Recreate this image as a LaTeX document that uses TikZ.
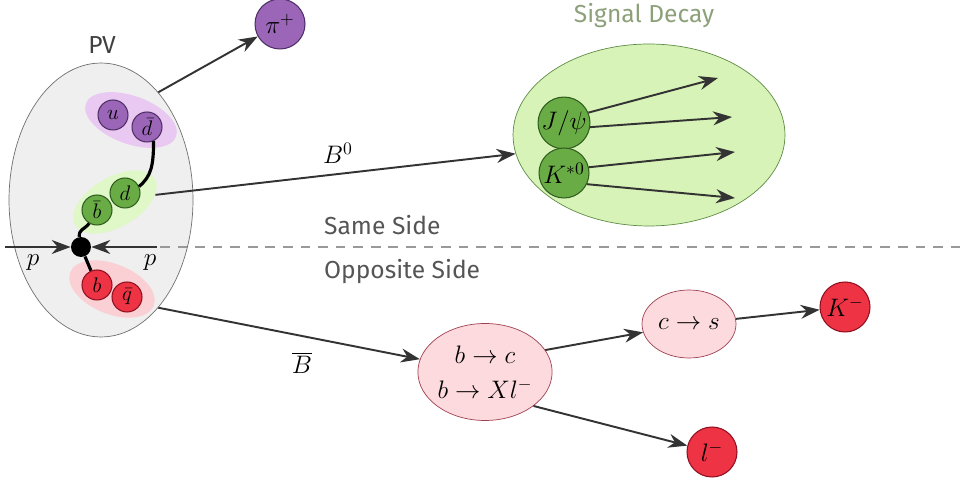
\documentclass[tikz,border=0pt]{standalone}
\usepackage{fontspec}
\newfontfamily\labelfont{Fira Sans}
\usetikzlibrary{arrows.meta,shapes.geometric}

% colours
\definecolor{arrowgray}{HTML}{333333}
\definecolor{textgray}{HTML}{555555}
\definecolor{pvfill}{HTML}{EFEFEF}
\definecolor{pvline}{HTML}{707070}
\definecolor{purpblob}{HTML}{E9C8F2}
\definecolor{purpq}{HTML}{9B66B8}
\definecolor{purpline}{HTML}{4F2F66}
\definecolor{greenblob}{HTML}{E0F7C8}
\definecolor{greenq}{HTML}{69AC45}
\definecolor{greenline}{HTML}{2F5E1E}
\definecolor{redblob}{HTML}{FAD0D4}
\definecolor{redq}{HTML}{EE3344}
\definecolor{redline}{HTML}{8E1020}
\definecolor{sigfill}{HTML}{D8F3B8}
\definecolor{sigline}{HTML}{5E8C44}
\definecolor{sigtext}{HTML}{8CA07A}
\definecolor{pinkfill}{HTML}{FCDADE}
\definecolor{pinkline}{HTML}{A04050}
\definecolor{dashgray}{HTML}{999999}

\begin{document}
\begin{tikzpicture}[x=0.02cm, y=-0.02cm,
    arr/.style={draw=arrowgray, line width=1.1pt, -{Stealth[length=0.38cm, width=0.28cm]}},
    string/.style={draw=black, line width=1.8pt},
    blob/.style={ellipse, inner sep=0pt},
    quark/.style={circle, minimum size=0.6cm, inner sep=0pt, line width=0.6pt, font=\large},
    particle/.style={circle, minimum size=1cm, inner sep=0pt, line width=0.6pt, font=\Large},
    txt/.style={font=\labelfont\fontsize{14}{16}\selectfont, text=textgray}]

    \useasboundingbox (0,0) rectangle (966,482);

    % Primary vertex
    \node[txt, text=black!75] (pvlabel) at (102,45) {PV};
    \node[blob, draw=pvline, fill=pvfill, minimum width=3.68cm, minimum height=5.48cm] (pv) at (101,200) {};

    % quark pairs
    \node[blob, fill=purpblob, minimum width=1.92cm, minimum height=0.96cm, rotate=-20] (purpleblob) at (131,120) {};
    \node[blob, fill=greenblob, minimum width=1.84cm, minimum height=1cm, rotate=30] (greenblob) at (115,202) {};
    \node[blob, fill=redblob, minimum width=1.8cm, minimum height=1cm, rotate=-22] (redblob) at (112,289) {};

    % beams and side split
    \coordinate (dashstart) at (160,247);
    \coordinate (dashend) at (966,247);
    \coordinate (beamL) at (5,247);
    \coordinate (beamR) at (157,247);
    \draw[dashgray, line width=1.3pt, dash pattern=on 5.5pt off 4.5pt] (dashstart) -- (dashend);

    \node[circle, fill=black, minimum size=0.4cm, inner sep=0pt] (vtx) at (81,247) {};
    \draw[arr] (beamL) -- (vtx);
    \draw[arr] (beamR) -- (vtx);
    \node[font=\Large] (pL) at (33,263) {$p$};
    \node[font=\Large] (pR) at (150,263) {$p$};

    \node[quark, fill=purpq, draw=purpline] (u) at (113,115) {$u$};
    \node[quark, fill=purpq, draw=purpline] (dbar) at (147,127) {$\bar d$};
    \node[quark, fill=greenq, draw=greenline] (d) at (125,193) {$d$};
    \node[quark, fill=greenq, draw=greenline] (bbar) at (97,210) {$\bar b$};
    \node[quark, fill=redq, draw=redline] (b) at (97,285) {$b$};
    \node[quark, fill=redq, draw=redline] (qbar) at (127,297) {$\bar q$};

    % strings
    \draw[string] (dbar.-65) .. controls +(0,25) and +(12,-10) .. (d.25);
    \draw[string] (bbar.-120) .. controls +(-6,7) and +(0,-8) .. (vtx.100);
    \draw[string] (vtx) -- (b);

    % same side
    \node[particle, fill=purpq, draw=purpline] (pip) at (280,24) {$\pi^+$};
    \draw[arr] (pv.62) -- (pip);

    \node[txt, text=sigtext] (siglabel) at (644,16) {Signal Decay};
    \node[blob, draw=sigline, fill=sigfill, minimum width=5.44cm, minimum height=3.64cm] (sig) at (649,135) {};
    \node[particle, fill=greenq, draw=greenline] (jpsi) at (564,123) {$J/\psi$};
    \node[particle, fill=greenq, draw=greenline] (kstar) at (564,173) {$K^{*0}$};

    \draw[arr] (greenblob.-20) -- (sig.188);
    \node[font=\Large] (bzero) at (338,153) {$B^0$};

    \coordinate (outA) at (718,78);
    \coordinate (outB) at (732,117);
    \coordinate (outC) at (735,152);
    \coordinate (outD) at (735,198);
    \draw[arr] (jpsi.23) -- (outA);
    \draw[arr] (jpsi.-9) -- (outB);
    \draw[arr] (kstar.13) -- (outC);
    \draw[arr] (kstar.-26) -- (outD);

    \node[txt, anchor=west] (same) at (318,225) {Same Side};
    \node[txt, anchor=west] (opp) at (318,272) {Opposite Side};

    % opposite side
    \node[blob, fill=pinkfill, draw=pinkline, minimum width=2.2cm, minimum height=1.94cm, align=center, font=\Large] (bc) at (485,372) {$b\to c$\\[2pt]$b\to Xl^-$};
    \node[blob, fill=pinkfill, draw=pinkline, minimum width=1.88cm, minimum height=1.36cm, font=\Large] (cs) at (689,324) {$c\to s$};
    \node[particle, fill=redq, draw=redline] (km) at (845,307) {$K^-$};
    \node[particle, fill=redq, draw=redline] (lm) at (712,452) {$l^-$};

    \draw[arr] (pv.-62) -- (bc);
    \node[font=\Large] (bbarlabel) at (302,363) {$\overline{B}$};
    \draw[arr] (bc.20) -- (cs);
    \draw[arr] (cs) -- (km);
    \draw[arr] (bc.-35) -- (lm);

\end{tikzpicture}
\end{document}
